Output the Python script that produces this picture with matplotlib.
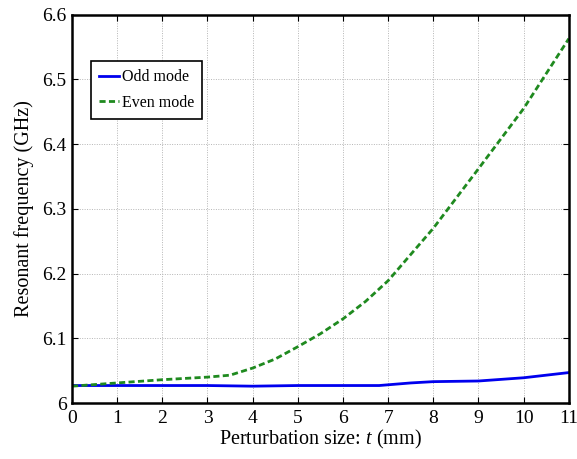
import matplotlib
matplotlib.use("Agg")
import matplotlib.pyplot as plt

# Perturbation size t (mm)
t_odd = [0, 1, 2, 3, 4, 5, 6, 6.8, 7.5, 8, 9, 10, 11]
f_odd = [6.027, 6.027, 6.027, 6.027, 6.026, 6.027, 6.027, 6.027, 6.031, 6.033, 6.034, 6.039, 6.047]

t_even = [0, 1, 2, 3, 3.5, 4, 4.5, 5, 5.5, 6, 6.5, 7, 8, 9, 10, 11]
f_even = [6.026, 6.031, 6.036, 6.040, 6.043, 6.054, 6.068, 6.087, 6.107, 6.130, 6.157, 6.189, 6.270, 6.362, 6.455, 6.563]

xticks = list(range(0, 12))
yticks = [6.0, 6.1, 6.2, 6.3, 6.4, 6.5, 6.6]
ytick_labels = ["6", "6.1", "6.2", "6.3", "6.4", "6.5", "6.6"]

plt.rcParams["font.family"] = ["Liberation Serif", "DejaVu Serif"]
plt.rcParams["mathtext.fontset"] = "custom"
plt.rcParams["mathtext.it"] = "Liberation Serif:italic"
plt.rcParams["mathtext.rm"] = "Liberation Serif"

fig = plt.figure(figsize=(5.77, 4.59), dpi=100, facecolor="white")
ax = fig.add_axes([0.1248, 0.122, 0.861, 0.846])

ax.plot(t_odd, f_odd, color="#0000ee", linewidth=2.0, label="Odd mode")
ax.plot(t_even, f_even, color="#1f8a1f", linewidth=2.0, linestyle=(0, (2.2, 1.2)),
        label="Even mode")

ax.set_xlim(0, 11)
ax.set_ylim(6.0, 6.6)
ax.set_xticks(xticks)
ax.set_yticks(yticks)
ax.set_yticklabels(ytick_labels)
ax.tick_params(direction="in", top=True, right=True, labelsize=14, length=4,
               width=0.8)
ax.tick_params(axis="x", pad=5)
ax.tick_params(axis="y", pad=4)
ax.grid(color="#b5b5b5", linestyle=(0, (1, 1.5)), linewidth=0.7)

for spine in ax.spines.values():
    spine.set_linewidth(1.8)
    spine.set_color("black")

ax.set_xlabel("Perturbation size: $t$ (mm)", fontsize=14.5, labelpad=1)
ax.set_ylabel("Resonant frequency (GHz)", fontsize=14.5, labelpad=6)

leg = ax.legend(loc="upper left", bbox_to_anchor=(0.038, 0.88), fontsize=11.5,
                fancybox=False, framealpha=1, edgecolor="black",
                handlelength=1.25, handletextpad=0.2, borderpad=0.5,
                labelspacing=0.6, borderaxespad=0)
leg.get_frame().set_linewidth(1.2)

fig.savefig("out.png", dpi=100, facecolor=fig.get_facecolor())
